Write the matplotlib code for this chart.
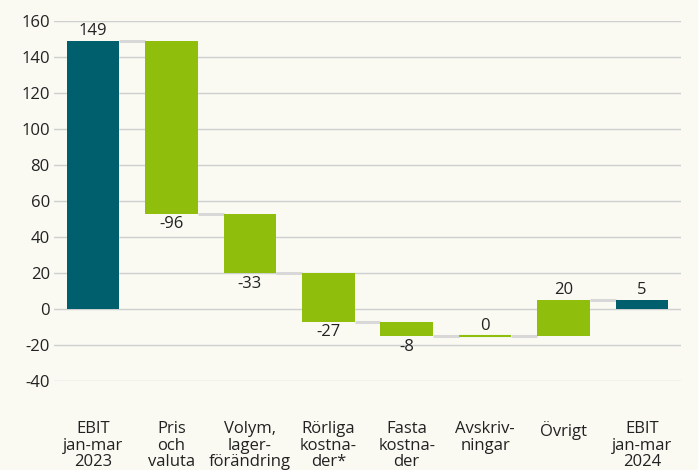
import numpy as np
import matplotlib
matplotlib.use('Agg')
import matplotlib.pyplot as plt

labels = ['EBIT\njan-mar\n2023', 'Pris\noch\nvaluta', 'Volym,\nlager-\nförändring',
          'Rörliga\nkostna-\nder*', 'Fasta\nkostna-\nder', 'Avskriv-\nningar',
          'Övrigt', 'EBIT\njan-mar\n2024']
values = [149, -96, -33, -27, -8, 0, 20, 5]
is_total = [True, False, False, False, False, False, False, True]

teal = '#005F6D'
green = '#8FBE0C'
bg = '#FAFAF3'

plt.rcParams['font.family'] = ['Open Sans', 'DejaVu Sans']
plt.rcParams['axes.unicode_minus'] = False

fig = plt.figure(figsize=(6.98, 4.70), dpi=100, facecolor=bg)
ax = fig.add_axes([0.0774, 0.1894, 0.8982, 0.7659], facecolor=bg)

x = np.arange(len(values))
width = 0.67
running = 0
bottoms = []
heights = []
for v, tot in zip(values, is_total):
    if tot:
        bottoms.append(0)
        heights.append(v)
        running = v
    else:
        bottoms.append(running)
        heights.append(v)
        running = running + v

colors = [teal if t else green for t in is_total]
ax.bar(x, heights, width, bottom=bottoms, color=colors, zorder=3)

# zero-height bars still show as a thin line
for i in range(len(values)):
    if heights[i] == 0:
        ax.plot([x[i] - width / 2, x[i] + width / 2], [bottoms[i], bottoms[i]],
                color=colors[i], lw=1.5, zorder=3, solid_capstyle='butt')

# connector lines between bars
for i in range(len(values) - 1):
    level = bottoms[i] + heights[i]
    ax.plot([x[i] + width / 2, x[i + 1] - width / 2], [level, level],
            color='#D8D8D8', lw=2.2, zorder=2, solid_capstyle='butt')

# value labels
for i in range(len(values)):
    top = bottoms[i] + heights[i]
    if heights[i] >= 0:
        ax.text(x[i], top + 1.2, str(values[i]), ha='center', va='bottom',
                fontsize=12, color='#222222', zorder=4)
    else:
        ax.text(x[i], top - 1.5, str(values[i]), ha='center', va='top',
                fontsize=12, color='#222222', zorder=4)

ax.set_xlim(-0.5, len(values) - 0.5)
ax.set_ylim(-40, 160)
ax.set_yticks(np.arange(-40, 161, 20))
ax.yaxis.grid(True, color='#CFCFCF', lw=1, zorder=0)
ax.set_axisbelow(True)
for s in ax.spines.values():
    s.set_visible(False)
ax.tick_params(axis='y', length=0, labelsize=12, labelcolor='#222222', pad=3)
ax.set_xticks(x)
ax.set_xticklabels(labels, fontsize=12, color='#222222', linespacing=1.05)
ax.tick_params(axis='x', length=0, pad=29)

fig.savefig('out.png', dpi=100, facecolor=bg)
